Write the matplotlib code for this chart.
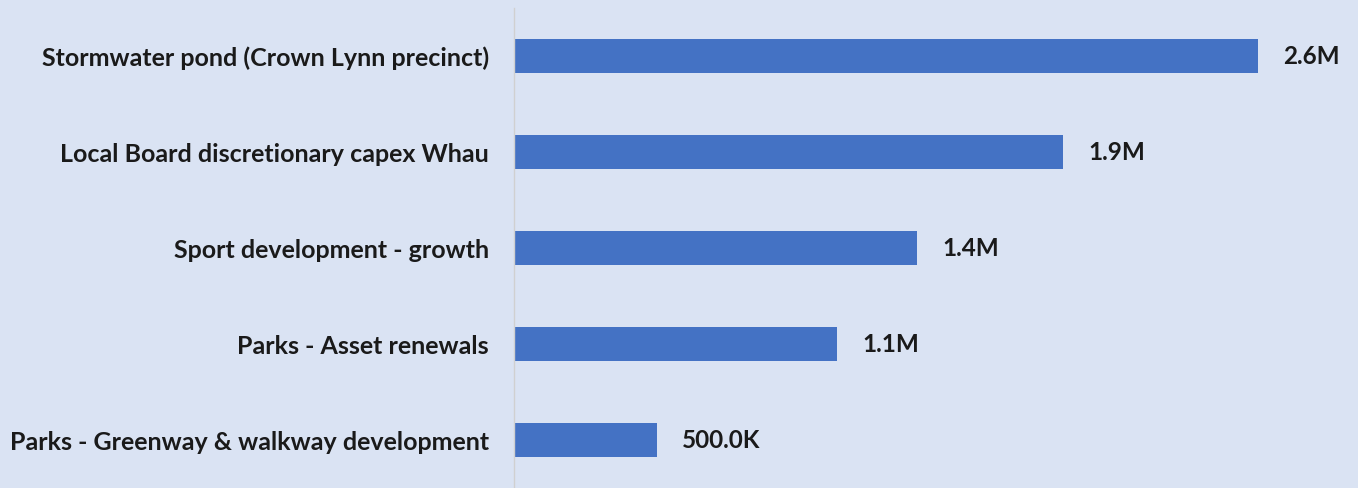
import matplotlib
matplotlib.use('Agg')
import matplotlib.pyplot as plt

categories = ['Stormwater pond (Crown Lynn precinct)',
              'Local Board discretionary capex Whau',
              'Sport development - growth',
              'Parks - Asset renewals',
              'Parks - Greenway & walkway development']
values = [2.60, 1.92, 1.41, 1.13, 0.50]  # millions
value_labels = ['2.6M', '1.9M', '1.4M', '1.1M', '500.0K']

bg = '#DAE3F3'
bar_color = '#4472C4'

plt.rcParams['font.family'] = ['Lato', 'DejaVu Sans']

fig = plt.figure(figsize=(13.58, 4.88), dpi=100, facecolor=bg)
ax = fig.add_axes([514 / 1358, 0, (1355 - 514) / 1358, 480 / 488])
ax.set_facecolor(bg)

y = list(range(len(categories)))
bars = ax.barh(y, values, height=0.35, color=bar_color)
ax.set_ylim(len(categories) - 0.5, -0.5)
ax.set_xlim(0, 2.94)

for b, lab in zip(bars, value_labels):
    ax.annotate(lab, (b.get_width(), b.get_y() + b.get_height() / 2),
                xytext=(18, 0), textcoords='offset points',
                va='center', ha='left', fontsize=17.5, fontweight='bold', color='#1a1a1a')

ax.set_yticks(y)
ax.set_yticklabels(categories, fontsize=18, fontweight='bold', color='#1a1a1a')
ax.tick_params(axis='y', length=0, pad=18)
ax.set_xticks([])
for s in ['top', 'right', 'bottom']:
    ax.spines[s].set_visible(False)
ax.spines['left'].set_color('#D0D0D0')
ax.spines['left'].set_linewidth(1)

fig.savefig('out.png', dpi=100, facecolor=bg)
